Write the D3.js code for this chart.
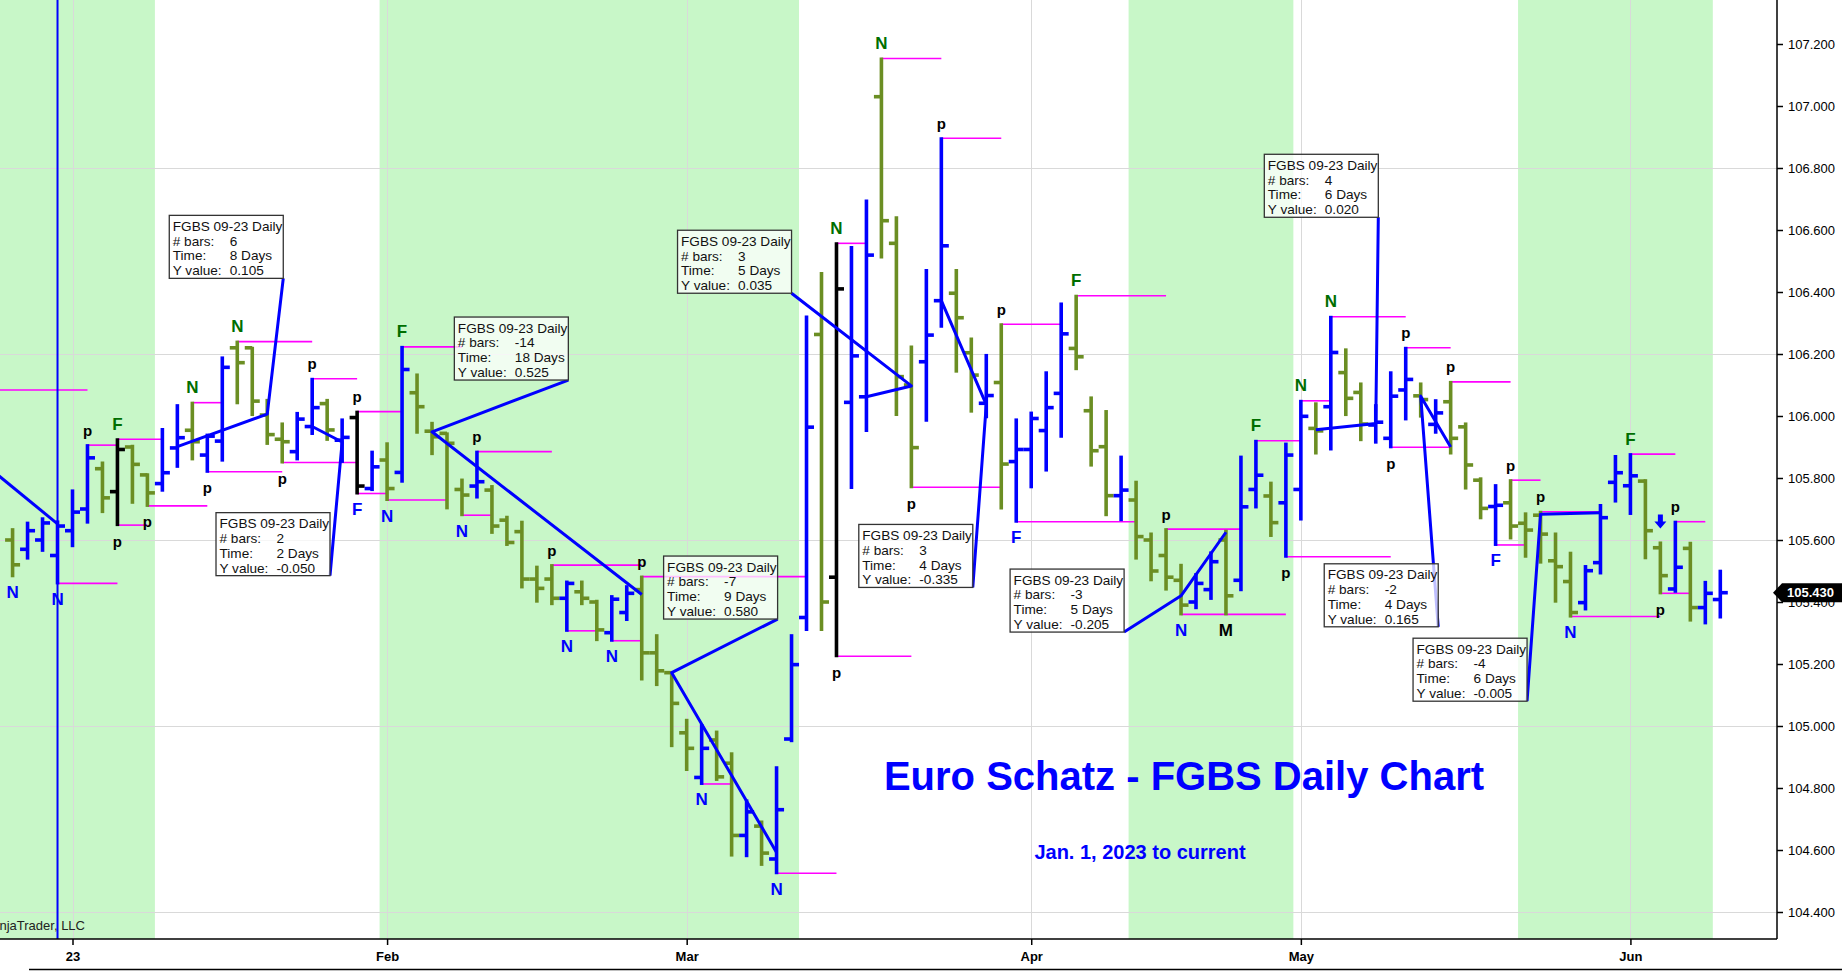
<!DOCTYPE html>
<html>
<head>
<meta charset="utf-8">
<script src="https://cdn.jsdelivr.net/npm/d3@7"></script>
<style>
  html, body { margin: 0; padding: 0; background: #fff; overflow: hidden; }
  svg { display: block; font-family: Arial, "Liberation Sans", sans-serif; }
</style>
</head>
<body>
<script>
// bar 0 = first January session, negative indexes are the last December bars
var firstBar = -4;

var opens = [105.60, 105.57, 105.60, 105.55,
  105.63, 105.70, 105.83, 105.756, 105.90, 105.81, 105.782, 105.897, 105.954, 105.874,
  105.919, 106.22, 106.22, 106.003, 105.925, 105.885, 105.966, 106.04, 105.922, 105.995,
  105.766, 105.858, 105.818, 106.075, 105.951, 105.944, 105.763, 105.774, 105.761, 105.664,
  105.627, 105.474, 105.474, 105.412, 105.433, 105.40, 105.301, 105.366, 105.44, 105.236,
  105.172, 104.978, 104.834, 104.955, 104.88, 104.647, 104.677, 104.571, 104.958, 105.35,
  106.263, 105.48, 106.044, 106.062, 107.03, 106.557, 106.10, 106.175, 106.372, 106.396,
  106.204, 106.041, 106.108, 105.853, 105.892, 105.953, 106.073, 106.218, 106.017, 105.901,
  105.743, 105.729, 105.60, 105.55, 105.47, 105.40, 105.44, 105.60, 105.47, 105.763,
  105.742, 105.72, 105.763, 105.96, 106.03, 106.14, 106.076, 105.971, 105.928, 106.084,
  106.065, 105.973, 106.046, 105.965, 105.793, 105.708, 105.72, 105.654, 105.68, 105.533,
  105.466, 105.398, 105.527, 105.786, 105.775, 105.79, 105.575, 105.442, 105.573, 105.382,
  105.408];

var highs = [105.635, 105.656, 105.67, 105.66,
  105.76, 105.906, 105.85, 105.925, 105.904, 105.812, 105.958, 106.035, 106.043, 105.94,
  106.189, 106.24, 106.22, 106.052, 105.976, 106.01, 106.12, 106.052, 105.989, 106.014,
  105.885, 105.912, 106.223, 106.134, 105.978, 105.944, 105.795, 105.885, 105.774, 105.675,
  105.659, 105.514, 105.519, 105.466, 105.466, 105.404, 105.419, 105.451, 105.482, 105.293,
  105.172, 105.02, 105.003, 104.982, 104.912, 104.76, 104.692, 104.867, 105.293, 106.321,
  106.461, 106.557, 106.545, 106.695, 107.153, 106.641, 106.224, 106.471, 106.896, 106.471,
  106.25, 106.197, 106.296, 105.989, 106.011, 106.141, 106.363, 106.388, 106.06, 106.016,
  105.869, 105.788, 105.621, 105.635, 105.52, 105.49, 105.56, 105.63, 105.869, 105.92,
  105.785, 105.911, 106.049, 106.041, 106.32, 106.215, 106.105, 106.035, 106.141, 106.22,
  106.105, 106.051, 106.11, 105.976, 105.799, 105.777, 105.793, 105.686, 105.691, 105.621,
  105.559, 105.516, 105.713, 105.871, 105.877, 105.793, 105.592, 105.659, 105.591, 105.465,
  105.501];

var lows = [105.483, 105.54, 105.565, 105.46,
  105.58, 105.656, 105.69, 105.648, 105.72, 105.71, 105.759, 105.836, 105.86, 105.82,
  105.856, 106.041, 106.003, 105.91, 105.85, 105.86, 105.942, 105.923, 105.852, 105.75,
  105.761, 105.729, 105.788, 105.946, 105.877, 105.702, 105.68, 105.737, 105.623, 105.584,
  105.447, 105.401, 105.393, 105.307, 105.393, 105.277, 105.275, 105.342, 105.15, 105.132,
  104.935, 104.858, 104.813, 104.826, 104.582, 104.58, 104.552, 104.525, 104.951, 105.31,
  105.31, 105.225, 105.768, 105.952, 106.511, 106.003, 105.77, 105.985, 106.288, 106.143,
  106.014, 105.996, 105.702, 105.659, 105.77, 105.824, 105.933, 106.151, 105.84, 105.68,
  105.664, 105.54, 105.47, 105.44, 105.36, 105.38, 105.41, 105.36, 105.438, 105.705,
  105.613, 105.546, 105.666, 105.879, 105.892, 106.003, 105.922, 105.914, 105.899, 105.989,
  105.998, 105.946, 105.879, 105.766, 105.67, 105.584, 105.605, 105.546, 105.527, 105.401,
  105.353, 105.376, 105.492, 105.724, 105.684, 105.541, 105.428, 105.433, 105.34, 105.331,
  105.35];

var closes = [105.52, 105.63, 105.655, 105.645,
  105.69, 105.865, 105.736, 105.892, 105.844, 105.752, 105.817, 105.93, 105.917, 105.935,
  106.157, 106.172, 106.048, 105.94, 105.917, 105.99, 106.027, 105.955, 105.931, 105.774,
  105.836, 105.766, 106.15, 106.03, 105.933, 105.912, 105.745, 105.788, 105.645, 105.592,
  105.474, 105.444, 105.412, 105.46, 105.412, 105.31, 105.409, 105.428, 105.236, 105.178,
  105.073, 104.928, 104.928, 104.836, 104.647, 104.723, 104.59, 104.73, 105.198, 105.964,
  105.40, 106.41, 106.194, 106.519, 106.63, 106.127, 105.898, 106.261, 106.549, 106.317,
  106.132, 106.066, 105.845, 105.892, 105.992, 106.027, 106.265, 106.191, 105.888, 105.743,
  105.761, 105.611, 105.50, 105.48, 105.39, 105.46, 105.53, 105.42, 105.707, 105.809,
  105.656, 105.874, 105.999, 105.952, 106.205, 106.057, 105.974, 105.98, 106.064, 106.118,
  106.053, 106.01, 105.928, 105.842, 105.702, 105.712, 105.645, 105.632, 105.619, 105.514,
  105.366, 105.501, 105.672, 105.817, 105.807, 105.63, 105.485, 105.512, 105.382, 105.428,
  105.43];

// outside bars are painted black
var outsideBars = [3, 19, 51];

var monthLabels = ["23", "Feb", "Mar", "Apr", "May", "Jun"];
var monthStarts = [0, 21, 41, 64, 82, 104];

var priceTicks = [104.4, 104.6, 104.8, 105.0, 105.2, 105.4, 105.6, 105.8, 106.0,
  106.2, 106.4, 106.6, 106.8, 107.0, 107.2];
var gridPrices = [104.4, 105.0, 105.6, 106.2, 106.8];
var lastPrice = 105.43;

// shaded session ranges, in bar index units
var sessionBands = [[-10, 5.5], [20.5, 48.5], [70.5, 81.5], [96.5, 109.5]];

// swing levels: [from bar, to bar, price]
var pivotLevels = [
  [-6, 1, 106.084], [-1, 3, 105.46], [1, 3, 105.906], [3, 6, 105.925], [3, 5, 105.648],
  [5, 9, 105.71], [8, 10, 106.043], [9, 14, 105.82], [11, 16, 106.24], [14, 19, 105.85],
  [16, 19, 106.12], [19, 22, 106.014], [19, 21, 105.75], [21, 25, 105.729], [22, 26, 106.223],
  [27, 32, 105.885], [26, 28, 105.68], [32, 38, 105.519], [33, 35, 105.307], [36, 38, 105.275],
  [38, 49, 105.482], [42, 44, 104.813], [47, 51, 104.525], [51, 53, 106.557], [54, 58, 107.153],
  [51, 56, 105.225], [56, 62, 105.77], [62, 66, 106.296], [63, 71, 105.659], [67, 73, 106.388],
  [58, 62, 106.896], [73, 78, 105.635], [74, 81, 105.36], [79, 82, 105.92], [82, 84, 106.049],
  [81, 88, 105.546], [84, 89, 106.32], [88, 92, 105.899], [89, 92, 106.22], [92, 96, 106.11],
  [95, 97, 105.584], [96, 98, 105.793], [98, 102, 105.691], [100, 106, 105.353],
  [104, 107, 105.877], [107, 109, 105.659], [106, 108, 105.428]
];

// swing markers: [bar, side, text, colour]
var swingLabels = [
  [-4, "below", "N", "blue"], [-1, "below", "N", "blue"], [1, "above", "p", "black"],
  [3, "above", "F", "green"], [3, "below", "p", "black"], [5, "below", "p", "black"],
  [8, "above", "N", "green"], [9, "below", "p", "black"], [11, "above", "N", "green"],
  [14, "below", "p", "black"], [16, "above", "p", "black"], [19, "above", "p", "black"],
  [19, "below", "F", "blue"], [21, "below", "N", "blue"], [22, "above", "F", "green"],
  [26, "below", "N", "blue"], [27, "above", "p", "black"], [32, "above", "p", "black"],
  [33, "below", "N", "blue"], [36, "below", "N", "blue"], [38, "above", "p", "black"],
  [42, "below", "N", "blue"], [47, "below", "N", "blue"], [51, "above", "N", "green"],
  [51, "below", "p", "black"], [54, "above", "N", "green"], [56, "below", "p", "black"],
  [58, "above", "p", "black"], [62, "above", "p", "black"], [63, "below", "F", "blue"],
  [67, "above", "F", "green"], [73, "above", "p", "black"], [74, "below", "N", "blue"],
  [77, "below", "M", "black"], [79, "above", "F", "green"], [81, "below", "p", "black"],
  [82, "above", "N", "green"], [84, "above", "N", "green"], [88, "below", "p", "black"],
  [89, "above", "p", "black"], [92, "above", "p", "black"], [95, "below", "F", "blue"],
  [96, "above", "p", "black"], [98, "above", "p", "black"], [100, "below", "N", "blue"],
  [104, "above", "F", "green"], [106, "below", "p", "black"], [107, "above", "p", "black"]
];

var signalArrows = [106];
var verticalLines = [-1];

// rulers: start bar, start price, end bar, end price, text bar, text price, # bars, time, y value
var rulers = [
  [-1, 105.652, -6, 105.85, null, null],
  [7, 105.901, 13, 106.006, 14.07, 106.444, "6", "8 Days", "0.105"],
  [16, 105.966, 18, 105.916, 17.19, 105.485, "2", "2 Days", "-0.050"],
  [38, 105.424, 24, 105.949, 33.1, 106.116, "-14", "18 Days", "0.525"],
  [47, 104.592, 40, 105.172, 47.07, 105.345, "-7", "9 Days", "0.580"],
  [53, 106.062, 56, 106.097, 48.0, 106.396, "3", "5 Days", "0.035"],
  [58, 106.372, 61, 106.037, 60.1, 105.447, "3", "4 Days", "-0.335"],
  [77, 105.625, 74, 105.42, 70.2, 105.303, "-3", "5 Days", "-0.205"],
  [83, 105.956, 87, 105.976, 87.17, 106.641, "4", "6 Days", "0.020"],
  [92, 105.9, 90, 106.064, 91.17, 105.32, "-2", "4 Days", "0.165"],
  [102, 105.688, 98, 105.683, 97.1, 105.08, "-4", "6 Days", "-0.005"]
];

var W = 1842, H = 971, plotRight = 1777, plotBottom = 939;
var colors = { blue: "#0000ff", green: "#006e00", black: "#000000", olive: "#6b8e23" };

var x = d3.scaleLinear().domain([0, 110]).range([72.5, 1720.3]);
var y = d3.scaleLinear().domain([104.4, 107.2]).range([912, 44]);

var svg = d3.select("body").append("svg")
  .attr("width", W)
  .attr("height", H);

svg.append("defs").append("clipPath").attr("id", "plot")
  .append("rect").attr("x", 0).attr("y", 0).attr("width", plotRight).attr("height", plotBottom);

var plot = svg.append("g").attr("clip-path", "url(#plot)");

plot.append("g").selectAll("rect")
  .data(sessionBands)
  .enter().append("rect")
  .attr("x", function(d) { return x(d[0]); })
  .attr("width", function(d) { return x(d[1]) - x(d[0]); })
  .attr("y", 0)
  .attr("height", plotBottom)
  .attr("fill", "#c8f7c8");

plot.append("g").selectAll("line")
  .data(gridPrices)
  .enter().append("line")
  .attr("x1", 0).attr("x2", plotRight)
  .attr("y1", function(d) { return Math.round(y(d)) + 0.5; })
  .attr("y2", function(d) { return Math.round(y(d)) + 0.5; })
  .attr("stroke", "#d9d9d9");

plot.append("g").selectAll("line")
  .data(monthStarts)
  .enter().append("line")
  .attr("x1", function(d) { return Math.round(x(d)) + 0.5; })
  .attr("x2", function(d) { return Math.round(x(d)) + 0.5; })
  .attr("y1", 0).attr("y2", plotBottom)
  .attr("stroke", "#d9d9d9");

plot.append("g").selectAll("line")
  .data(pivotLevels)
  .enter().append("line")
  .attr("x1", function(d) { return x(d[0]); })
  .attr("x2", function(d) { return x(d[1]); })
  .attr("y1", function(d) { return y(d[2]); })
  .attr("y2", function(d) { return y(d[2]); })
  .attr("stroke", "#ff00ff")
  .attr("stroke-width", 1.6);

plot.append("g").selectAll("line")
  .data(verticalLines)
  .enter().append("line")
  .attr("x1", function(d) { return x(d); })
  .attr("x2", function(d) { return x(d); })
  .attr("y1", 0).attr("y2", plotBottom)
  .attr("stroke", colors.blue)
  .attr("stroke-width", 2);

var bars = opens.map(function(o, i) {
  return { k: i + firstBar, o: o, h: highs[i], l: lows[i], c: closes[i] };
});

var bar = plot.append("g").selectAll("g")
  .data(bars)
  .enter().append("g")
  .attr("stroke", function(d) {
    if (outsideBars.indexOf(d.k) >= 0) return colors.black;
    return d.c >= d.o ? colors.blue : colors.olive;
  })
  .attr("stroke-width", 3.6);

bar.append("line")
  .attr("x1", function(d) { return x(d.k); })
  .attr("x2", function(d) { return x(d.k); })
  .attr("y1", function(d) { return y(d.h) - 1; })
  .attr("y2", function(d) { return y(d.l) + 1; });
bar.append("line")
  .attr("x1", function(d) { return x(d.k) - 7.5; })
  .attr("x2", function(d) { return x(d.k); })
  .attr("y1", function(d) { return y(d.o); })
  .attr("y2", function(d) { return y(d.o); });
bar.append("line")
  .attr("x1", function(d) { return x(d.k); })
  .attr("x2", function(d) { return x(d.k) + 7.5; })
  .attr("y1", function(d) { return y(d.c); })
  .attr("y2", function(d) { return y(d.c); });

function barOf(k) { return bars[k - firstBar]; }

plot.append("g").selectAll("text")
  .data(swingLabels)
  .enter().append("text")
  .attr("x", function(d) { return x(d[0]); })
  .attr("y", function(d) {
    var b = barOf(d[0]);
    return d[1] == "above" ? y(b.h) - 15 : y(b.l) + 16;
  })
  .attr("text-anchor", "middle")
  .attr("dominant-baseline", "central")
  .attr("font-weight", "bold")
  .attr("font-size", function(d) { return d[2] == "p" ? 15 : 17; })
  .attr("fill", function(d) { return colors[d[3]]; })
  .text(function(d) { return d[2]; });

plot.append("g").selectAll("path")
  .data(signalArrows)
  .enter().append("path")
  .attr("transform", function(d) { return "translate(" + x(d) + "," + (y(barOf(d).h) - 14) + ")"; })
  .attr("d", "M -2.5,-14 L 2.5,-14 L 2.5,-7 L 6,-7 L 0,0 L -6,-7 L -2.5,-7 Z")
  .attr("fill", colors.blue);

var ruler = plot.append("g").selectAll("g")
  .data(rulers)
  .enter().append("g");

ruler.append("polyline")
  .attr("points", function(d) {
    var pts = [[x(d[0]), y(d[1])], [x(d[2]), y(d[3])]];
    if (d[4] !== null) pts.push([x(d[4]), y(d[5])]);
    return pts.join(" ");
  })
  .attr("fill", "none")
  .attr("stroke", colors.blue)
  .attr("stroke-width", 3)
  .attr("stroke-linejoin", "round");

var box = ruler.filter(function(d) { return d[4] !== null; })
  .append("g")
  .attr("transform", function(d) {
    return "translate(" + (x(d[4]) - 114) + "," + (y(d[5]) - 63) + ")";
  });

box.append("rect")
  .attr("width", 114).attr("height", 63)
  .attr("fill", "#fff").attr("fill-opacity", 0.75)
  .attr("stroke", "#333").attr("stroke-width", 1.3);

box.append("text")
  .attr("x", 3.5).attr("y", 11)
  .attr("dominant-baseline", "central")
  .attr("font-size", 13.6)
  .attr("fill", "#111")
  .text("FGBS 09-23 Daily");

[["# bars:", 6], ["Time:", 7], ["Y value:", 8]].forEach(function(row, i) {
  box.append("text")
    .attr("x", 3.5).attr("y", 25.8 + i * 14.8)
    .attr("dominant-baseline", "central")
    .attr("font-size", 13.6)
    .attr("fill", "#111")
    .text(row[0]);
  box.append("text")
    .attr("x", 60.5).attr("y", 25.8 + i * 14.8)
    .attr("dominant-baseline", "central")
    .attr("font-size", 13.6)
    .attr("fill", "#111")
    .text(function(d) { return d[row[1]]; });
});

plot.append("text")
  .attr("x", 85).attr("y", 930)
  .attr("text-anchor", "end")
  .attr("font-size", 13)
  .attr("fill", "#222")
  .text("\u00a9 2023 NinjaTrader, LLC");

svg.append("text")
  .attr("x", 1184).attr("y", 790)
  .attr("text-anchor", "middle")
  .attr("font-size", 40)
  .attr("font-weight", "bold")
  .attr("fill", colors.blue)
  .text("Euro Schatz - FGBS Daily Chart");

svg.append("text")
  .attr("x", 1140).attr("y", 859)
  .attr("text-anchor", "middle")
  .attr("font-size", 20)
  .attr("font-weight", "bold")
  .attr("fill", colors.blue)
  .text("Jan. 1, 2023 to current");

// right price axis
var yAxis = svg.append("g")
  .attr("transform", "translate(" + plotRight + ",0)")
  .call(d3.axisRight(y).tickValues(priceTicks).tickFormat(d3.format(".3f")).tickSize(6).tickPadding(5));
yAxis.select(".domain").remove();
yAxis.selectAll("text").attr("font-size", 13).attr("fill", "#000").attr("font-family", null);
yAxis.selectAll("line").attr("stroke", "#000").attr("stroke-width", 1.5);

svg.append("line")
  .attr("x1", plotRight).attr("x2", plotRight)
  .attr("y1", 0).attr("y2", plotBottom)
  .attr("stroke", "#000").attr("stroke-width", 1.5);

var marker = svg.append("g").attr("transform", "translate(0," + y(lastPrice) + ")");
marker.append("path")
  .attr("d", "M " + (plotRight - 4) + ",0 L " + (plotRight + 5) + ",-9.5 L " + W + ",-9.5 L " + W + ",9.5 L " + (plotRight + 5) + ",9.5 Z")
  .attr("fill", "#000");
marker.append("text")
  .attr("x", plotRight + 10).attr("y", 0)
  .attr("dominant-baseline", "central")
  .attr("font-size", 13)
  .attr("font-weight", "bold")
  .attr("fill", "#fff")
  .text(d3.format(".3f")(lastPrice));

// bottom time axis
var xAxis = svg.append("g")
  .attr("transform", "translate(0," + plotBottom + ")")
  .call(d3.axisBottom(x).tickValues(monthStarts)
    .tickFormat(function(d, i) { return monthLabels[i]; })
    .tickSize(6).tickPadding(7));
xAxis.select(".domain").remove();
xAxis.selectAll("text").attr("font-size", 13).attr("font-weight", "bold").attr("fill", "#000").attr("font-family", null);
xAxis.selectAll("line").attr("stroke", "#000").attr("stroke-width", 1.5);

svg.append("line")
  .attr("x1", 0).attr("x2", plotRight)
  .attr("y1", plotBottom).attr("y2", plotBottom)
  .attr("stroke", "#000").attr("stroke-width", 1.5);

svg.append("line")
  .attr("x1", 29).attr("x2", W)
  .attr("y1", 969.5).attr("y2", 969.5)
  .attr("stroke", "#000").attr("stroke-width", 1.5);
</script>
</body>
</html>
